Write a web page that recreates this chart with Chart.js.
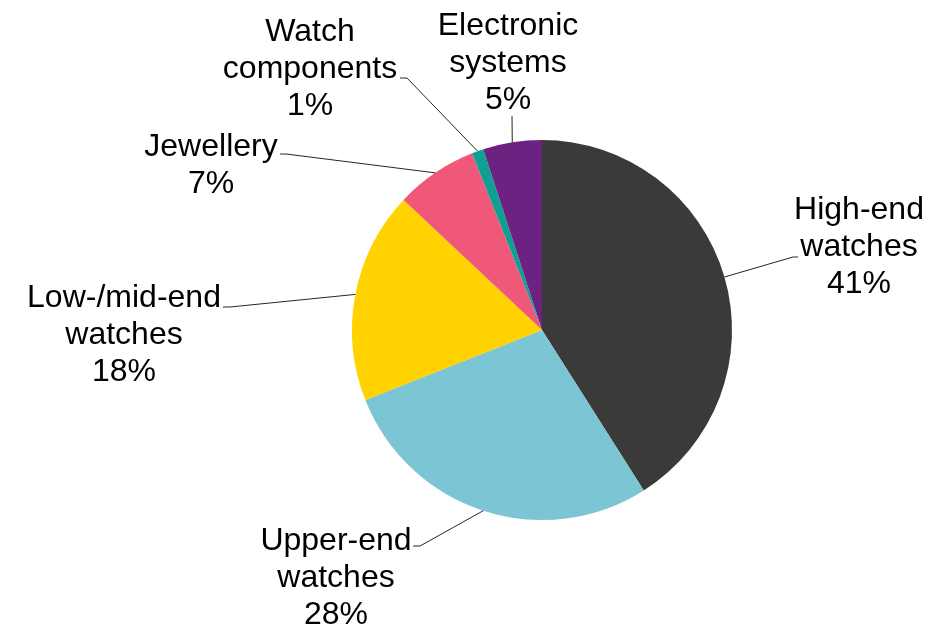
<!DOCTYPE html>
<html>
<head>
<meta charset="utf-8">
<script src="https://cdn.jsdelivr.net/npm/chart.js@4/dist/chart.umd.min.js"></script>
<style>
  html, body { margin: 0; padding: 0; background: #ffffff; }
  #c { display: block; }
</style>
</head>
<body>
<canvas id="c" width="934" height="629"></canvas>
<script>
// ---- Data ----
const categories = ['High-end watches', 'Upper-end watches', 'Low-/mid-end watches', 'Jewellery', 'Watch components', 'Electronic systems'];
const labelLines = [['High-end', 'watches'], ['Upper-end', 'watches'], ['Low-/mid-end', 'watches'], ['Jewellery'], ['Watch', 'components'], ['Electronic', 'systems']];
const shares = [41, 28, 18, 7, 1, 5];
const sliceColors = ['#3a3b38', '#7bc5d5', '#ffd200', '#f0587a', '#0f9f93', '#6b2280'];

// ---- Label layout (text centre x, first baseline y, leader elbow, leader end) ----
const labelLayout = [
  { cx: 859, y: 219, elbow: [793, 257], end: [798, 257] },
  { cx: 336, y: 550, elbow: [420, 546], end: [413, 546] },
  { cx: 124, y: 307, elbow: [230, 307], end: [223, 307] },
  { cx: 211, y: 156, elbow: [286, 154], end: [280, 154] },
  { cx: 310, y: 41,  elbow: [407, 78],  end: [400, 78] },
  { cx: 508, y: 35,  elbow: [512, 116], end: [512, 116] }
];
const LINE_H = 37;

const outsideLabels = {
  id: 'outsideLabels',
  afterDatasetsDraw(chart) {
    const ctx = chart.ctx;
    const meta = chart.getDatasetMeta(0);
    ctx.save();
    meta.data.forEach((arc, i) => {
      const L = labelLayout[i];
      const mid = (arc.startAngle + arc.endAngle) / 2;
      const ax = arc.x + Math.cos(mid) * arc.outerRadius;
      const ay = arc.y + Math.sin(mid) * arc.outerRadius;
      ctx.beginPath();
      ctx.strokeStyle = '#262626';
      ctx.lineWidth = 1;
      ctx.moveTo(L.end[0], L.end[1]);
      ctx.lineTo(L.elbow[0], L.elbow[1]);
      ctx.lineTo(ax, ay);
      ctx.stroke();

      const lines = labelLines[i].concat([shares[i] + '%']);
      ctx.fillStyle = '#000000';
      ctx.font = '32px "Liberation Sans", Arial, sans-serif';
      ctx.textAlign = 'center';
      ctx.textBaseline = 'alphabetic';
      lines.forEach((t, k) => ctx.fillText(t, L.cx, L.y + k * LINE_H));
    });
    ctx.restore();
  }
};

new Chart(document.getElementById('c'), {
  type: 'pie',
  data: {
    labels: categories,
    datasets: [{
      data: shares,
      backgroundColor: sliceColors,
      borderWidth: 0
    }]
  },
  options: {
    responsive: false,
    animation: false,
    layout: { padding: { top: 140, bottom: 109, left: 352, right: 202 } },
    plugins: {
      legend: { display: false },
      tooltip: { enabled: false }
    }
  },
  plugins: [outsideLabels]
});
</script>
</body>
</html>
